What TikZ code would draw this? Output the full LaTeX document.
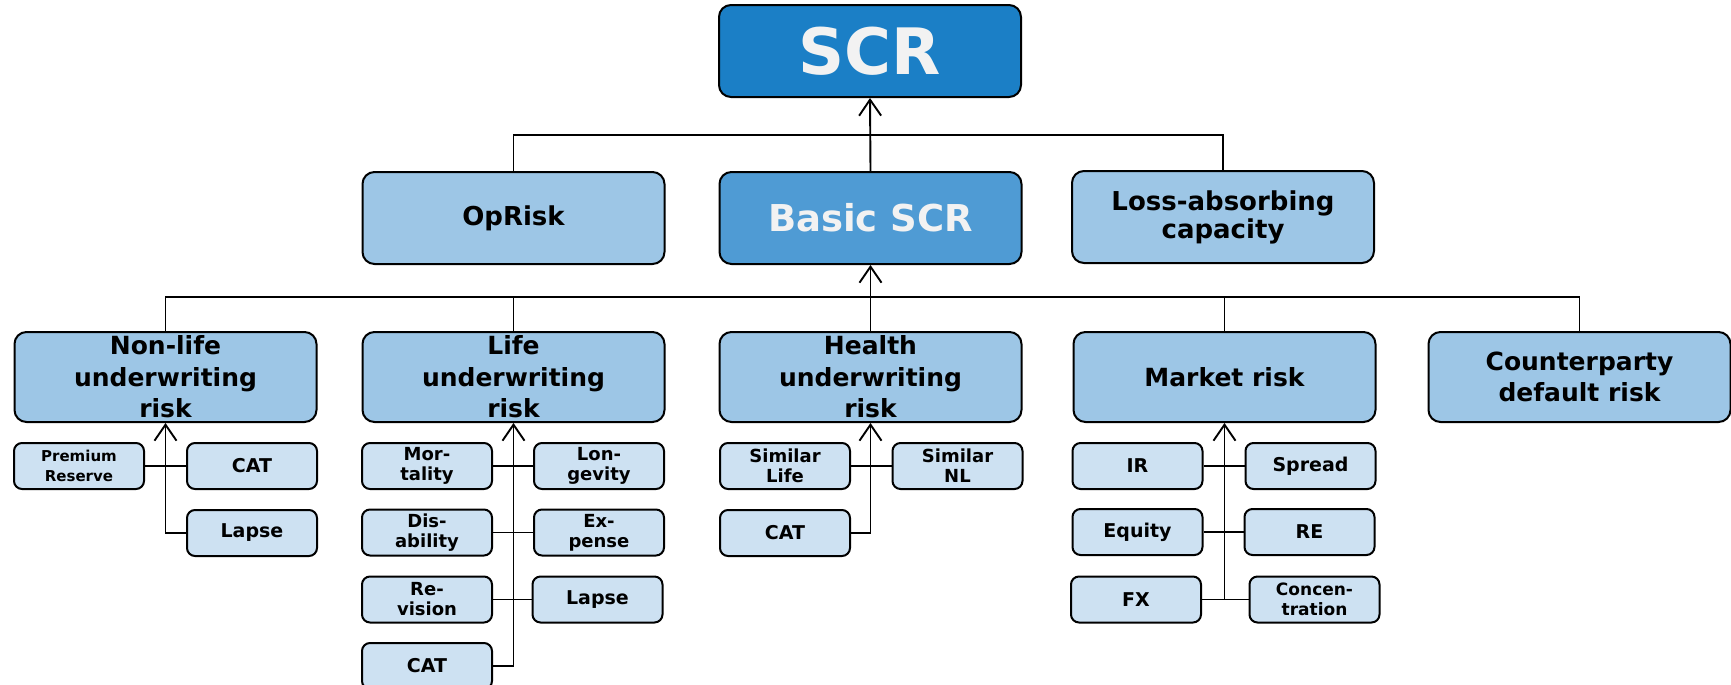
\documentclass[tikz,border=0pt]{standalone}
\usepackage{fontspec}
\setmainfont{DejaVu Sans}
\usepackage{tikz}
\usetikzlibrary{arrows.meta,positioning,calc}

\definecolor{scrblue}{RGB}{27,127,198}
\definecolor{basicblue}{RGB}{79,155,212}
\definecolor{modblue}{RGB}{157,198,230}
\definecolor{leafblue}{RGB}{205,225,242}
\definecolor{paletext}{RGB}{242,242,242}

\begin{document}
\begin{tikzpicture}[
  x=0.5pt,y=-0.5pt,
  box/.style={
    draw=black,
    line width=1pt,
    align=center,
    inner sep=0pt
  },
  bigbox/.style={box, rounded corners=6pt, minimum width=151pt, minimum height=46pt},
  topbox/.style={bigbox, fill=scrblue, text=paletext, font=\bfseries\fontsize{32}{32}\selectfont},
  basicbox/.style={bigbox, fill=basicblue, text=paletext, font=\bfseries\fontsize{18.5}{20}\selectfont},
  modbox/.style={bigbox, fill=modblue, font=\bfseries\fontsize{13}{14}\selectfont},
  riskbox/.style={bigbox, fill=modblue, minimum height=45pt, font=\bfseries\fontsize{12.5}{15.7}\selectfont},
  leafbox/.style={box, rounded corners=4pt, fill=leafblue, minimum width=65pt, minimum height=23pt, font=\bfseries\fontsize{9.5}{10}\selectfont},
  twoline/.style={font=\bfseries\fontsize{9}{10}\selectfont},
  small/.style={font=\bfseries\fontsize{7.5}{10}\selectfont},
  link/.style={draw=black, line width=0.95pt},
  uparrow/.style={
    draw=black,
    line width=0.95pt,
    -{Straight Barb[length=8pt,width=11pt]}
  },
]
\useasboundingbox (0,0) rectangle (1731,685);

% Top and first level
\node[topbox] (scr) at (870,51) {SCR};
\node[modbox] (oprisk) at (513.5,218) {OpRisk};
\node[basicbox] (basic) at (870.5,218) {Basic SCR};
\node[modbox] (loss) at (1223,217) {Loss-absorbing\\capacity};

% Risk modules
\node[riskbox] (nonlife) at (165.5,377) {Non-life\\underwriting\\risk};
\node[riskbox] (life) at (513.5,377) {Life\\underwriting\\risk};
\node[riskbox] (health) at (870.5,377) {Health\\underwriting\\risk};
\node[riskbox] (market) at (1224.5,377) {Market risk};
\node[riskbox] (cpty) at (1579.5,377) {Counterparty\\default risk};

% Sub-modules: non-life
\node[leafbox, small] (prem) at (79,466) {Premium\\Reserve};
\node[leafbox] (nlcat) at (252,466) {CAT};
\node[leafbox] (nllapse) at (252,533) {Lapse};

% Sub-modules: life
\node[leafbox, twoline] (mort) at (427,466) {Mor-\\tality};
\node[leafbox, twoline] (long) at (599,466) {Lon-\\gevity};
\node[leafbox, twoline] (dis) at (427,532.5) {Dis-\\ability};
\node[leafbox, twoline] (exp) at (599,532.5) {Ex-\\pense};
\node[leafbox, twoline] (rev) at (427,599.5) {Re-\\vision};
\node[leafbox] (llapse) at (597.5,599.5) {Lapse};
\node[leafbox] (lcat) at (427,666) {CAT};

% Sub-modules: health
\node[leafbox, twoline] (simlife) at (785,466) {Similar\\Life};
\node[leafbox, twoline] (simnl) at (957.5,466) {Similar\\NL};
\node[leafbox] (hcat) at (785,533) {CAT};

% Sub-modules: market
\node[leafbox] (ir) at (1137.5,466) {IR};
\node[leafbox] (spread) at (1310.5,466) {Spread};
\node[leafbox] (equity) at (1137.5,532) {Equity};
\node[leafbox] (re) at (1309.5,532) {RE};
\node[leafbox] (fx) at (1136,599.5) {FX};
\node[leafbox, font=\bfseries\fontsize{8.5}{10}\selectfont] (conc) at (1314.5,599.5) {Concen-\\tration};

% Buses between levels
\coordinate (busA) at (870.5,135);
\coordinate (busB) at (870.5,297);

\draw[link] (oprisk.north) |- (busA) -| (loss.north);
\draw[uparrow] (basic.north) -- (scr.south);

\draw[link] (nonlife.north) |- (busB) -| (cpty.north);
\draw[link] (life.north) -- (life.north |- busB);
\draw[link] (market.north) -- (market.north |- busB);
\draw[uparrow] (health.north) -- (basic.south);

% Trunks up to each module
\draw[uparrow] (nllapse.west) -| (nonlife.south);
\draw[link] (prem.east) -- (nlcat.west);

\draw[uparrow] (lcat.east) -| (life.south);
\draw[link] (mort.east) -- (long.west);
\draw[link] (dis.east) -- (exp.west);
\draw[link] (rev.east) -- (llapse.west);

\draw[uparrow] (hcat.east) -| (health.south);
\draw[link] (simlife.east) -- (simnl.west);

\draw[uparrow] (fx.east) -| (market.south);
\draw[link] (ir.east) -- (spread.west);
\draw[link] (equity.east) -- (re.west);
\draw[link] (fx.east) -- (conc.west);

\end{tikzpicture}
\end{document}
